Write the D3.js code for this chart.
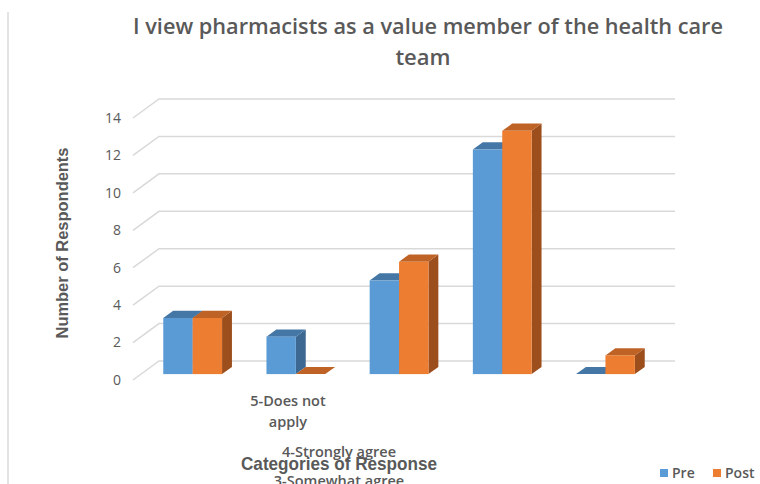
<!DOCTYPE html>
<html>
<head>
<meta charset="utf-8">
<script src="https://cdn.jsdelivr.net/npm/d3@7"></script>
<style>
  html, body { margin: 0; padding: 0; background: #fff; }
  svg { display: block; }
  text { fill: #595959; }
</style>
</head>
<body>
<svg id="chart" width="760" height="484"></svg>
<script>
// data
var categories = ['5-Does not apply', '4-Strongly agree', '3-Somewhat agree', '2-Somewhat disagree', '1-Strongly disagree'];
var seriesNames = ['Pre', 'Post'];
var preValues = [3, 2, 5, 12, 0];
var postValues = [3, 0, 6, 13, 1];
var yTicks = [0, 2, 4, 6, 8, 10, 12, 14];

var colors = {
  Pre:  { front: '#5B9BD5', top: '#4577A6', side: '#3D6891' },
  Post: { front: '#ED7D31', top: '#BF6226', side: '#9C4E1C' }
};

var svg = d3.select('#chart');

// 3d depth offset of the whole plot box
var depthX = 26, depthY = -19;
// where bars sit in depth (fraction) and how deep they are
var barZ = 0.31, barDepth = 0.38;

var x = d3.scaleBand().domain(categories).range([133, 649]);
var y = d3.scaleLinear().domain([0, 14]).range([380, 118]);
var barW = 29.4;

// faint frame line at the left
svg.append('line')
  .attr('x1', 8).attr('x2', 8).attr('y1', 12).attr('y2', 484)
  .attr('stroke', '#C8C8C8').attr('stroke-width', 1);

// gridlines: side wall diagonal + back wall horizontal
var grid = svg.append('g');
grid.selectAll('path').data(yTicks).enter().append('path')
  .attr('d', function (d) {
    var yy = y(d);
    return 'M' + x.range()[0] + ',' + yy +
      'L' + (x.range()[0] + depthX) + ',' + (yy + depthY) +
      'L' + (x.range()[1] + depthX) + ',' + (yy + depthY);
  })
  .attr('fill', 'none')
  .attr('stroke', '#D9D9D9')
  .attr('stroke-width', 1.5);

// tick labels
svg.append('g').selectAll('text').data(yTicks).enter().append('text')
  .attr('x', 121)
  .attr('y', function (d) { return y(d); })
  .attr('dy', '0.35em')
  .attr('text-anchor', 'end')
  .style('font-family', '"Open Sans", sans-serif')
  .style('font-size', '14px')
  .text(function (d) { return d; });

// bars
var rows = [];
categories.forEach(function (c, i) {
  rows.push({ cat: c, s: 'Pre', v: preValues[i], k: 0 });
  rows.push({ cat: c, s: 'Post', v: postValues[i], k: 1 });
});

var offX = depthX * barZ, offY = depthY * barZ;
var dX = depthX * barDepth, dY = depthY * barDepth;

var bars = svg.append('g').selectAll('g').data(rows).enter().append('g');

bars.each(function (d) {
  var g = d3.select(this);
  var cx = x(d.cat) + x.bandwidth() / 2 + offX;
  var x0 = cx + (d.k - 1) * barW, x1 = x0 + barW;
  var yb = y(0) + offY, yt = y(d.v) + offY;
  var c = colors[d.s];
  // side face
  g.append('path')
    .attr('d', 'M' + x1 + ',' + yb + 'L' + (x1 + dX) + ',' + (yb + dY) +
      'L' + (x1 + dX) + ',' + (yt + dY) + 'L' + x1 + ',' + yt + 'Z')
    .attr('fill', c.side);
  // top face
  g.append('path')
    .attr('d', 'M' + x0 + ',' + yt + 'L' + x1 + ',' + yt +
      'L' + (x1 + dX) + ',' + (yt + dY) + 'L' + (x0 + dX) + ',' + (yt + dY) + 'Z')
    .attr('fill', c.top);
  // front face
  if (d.v > 0) {
    g.append('rect')
      .attr('x', x0).attr('y', yt)
      .attr('width', barW).attr('height', yb - yt)
      .attr('fill', c.front);
  }
});

// category labels, stacked as in the picture
var catLabels = svg.append('g')
  .style('font-family', '"Open Sans", sans-serif')
  .style('font-size', '14.5px')
  .style('font-weight', 600);

categories.forEach(function (c, i) {
  if (i === 0) {
    var words = c.split(' ');
    var t = catLabels.append('text').attr('text-anchor', 'middle');
    t.append('tspan').attr('x', 288).attr('y', 406).text(words.slice(0, 2).join(' '));
    t.append('tspan').attr('x', 288).attr('y', 427).text(words.slice(2).join(' '));
  } else {
    catLabels.append('text')
      .attr('text-anchor', 'middle')
      .attr('x', 339)
      .attr('y', 457 + (i - 1) * 28.5)
      .text(c);
  }
});

// axis titles
svg.append('text')
  .attr('x', 339).attr('y', 470)
  .attr('text-anchor', 'middle')
  .attr('textLength', 196).attr('lengthAdjust', 'spacingAndGlyphs')
  .style('font-family', '"Liberation Sans Narrow", "Liberation Sans", sans-serif')
  .style('font-size', '19px')
  .style('font-weight', 'bold')
  .text('Categories of Response');

svg.append('text')
  .attr('transform', 'translate(68,243) rotate(-90)')
  .attr('text-anchor', 'middle')
  .attr('textLength', 191).attr('lengthAdjust', 'spacingAndGlyphs')
  .style('font-family', '"Liberation Sans Narrow", "Liberation Sans", sans-serif')
  .style('font-size', '17px')
  .style('font-weight', 'bold')
  .text('Number of Respondents');

// title
var title = svg.append('g')
  .style('font-family', '"Open Sans", sans-serif')
  .style('font-size', '22px')
  .style('font-weight', 600);
title.append('text')
  .attr('x', 428).attr('y', 34)
  .attr('text-anchor', 'middle')
  .attr('textLength', 590).attr('lengthAdjust', 'spacingAndGlyphs')
  .text('I view pharmacists as a value member of the health care');
title.append('text')
  .attr('x', 423).attr('y', 65)
  .attr('text-anchor', 'middle')
  .text('team');

// legend
var legend = svg.append('g')
  .style('font-family', '"Open Sans", sans-serif')
  .style('font-size', '14px')
  .style('font-weight', 600);
var legX = [660, 713];
seriesNames.forEach(function (s, i) {
  legend.append('rect')
    .attr('x', legX[i]).attr('y', 469)
    .attr('width', 8).attr('height', 8)
    .attr('fill', colors[s].front);
  legend.append('text')
    .attr('x', legX[i] + 12).attr('y', 478)
    .text(s);
});
</script>
</body>
</html>
